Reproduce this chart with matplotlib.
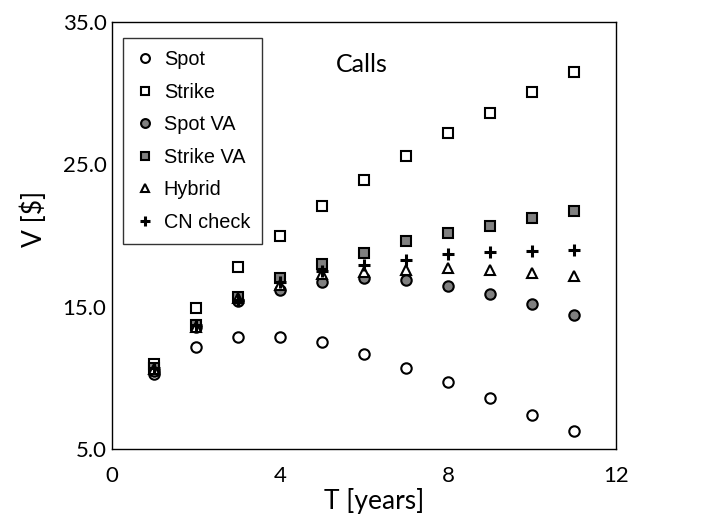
import matplotlib.pyplot as plt

# maturity in years
T = [1, 2, 3, 4, 5, 6, 7, 8, 9, 10, 11]

# option values
spot = [10.3, 12.2, 12.9, 12.9, 12.5, 11.7, 10.7, 9.7, 8.6, 7.4, 6.3]
strike = [11.0, 14.9, 17.8, 20.0, 22.1, 23.9, 25.6, 27.2, 28.6, 30.1, 31.5]
spot_va = [10.5, 13.6, 15.4, 16.2, 16.75, 17.0, 16.9, 16.45, 15.9, 15.2, 14.4]
strike_va = [10.7, 13.7, 15.7, 17.0, 18.0, 18.8, 19.6, 20.2, 20.7, 21.2, 21.7]
hybrid = [10.6, 13.6, 15.6, 16.5, 17.3, 17.45, 17.6, 17.7, 17.6, 17.4, 17.15]
cn_check = [10.7, 13.7, 15.5, 16.75, 17.5, 17.9, 18.3, 18.7, 18.85, 18.9, 19.0]

xticks = [0, 4, 8, 12]
yticks = [5, 15, 25, 35]

grey = '#808080'
tick_font = 'Lato'

fig = plt.figure(figsize=(7.24, 5.17), dpi=100)
ax = fig.add_axes([0.1547, 0.1315, 0.6961, 0.8259])

ms = 7.5
mew = 1.5
ax.plot(T, spot, 'o', ms=ms, mfc='white', mec='black', mew=mew, label='Spot')
ax.plot(T, strike, 's', ms=ms, mfc='white', mec='black', mew=mew, label='Strike')
ax.plot(T, spot_va, 'o', ms=ms, mfc=grey, mec='black', mew=mew, label='Spot VA')
ax.plot(T, strike_va, 's', ms=ms, mfc=grey, mec='black', mew=mew, label='Strike VA')
ax.plot(T, hybrid, '^', ms=6.5, mfc='white', mec='black', mew=mew, label='Hybrid')
ax.plot(T, cn_check, '+', ms=8, mec='black', mew=2.2, label='CN check')

ax.set_xlim(0, 12)
ax.set_ylim(5, 35)
ax.set_xticks(xticks)
ax.set_yticks(yticks)
ax.set_xticklabels([str(v) for v in xticks], fontsize=16, family=tick_font)
ax.set_yticklabels(['%.1f' % v for v in yticks], fontsize=16, family=tick_font)
ax.tick_params(length=0)
ax.tick_params(axis='x', pad=12)
ax.tick_params(axis='y', pad=4)

for s in ax.spines.values():
    s.set_linewidth(1.0)
    s.set_color('black')

ax.set_xlabel('T [years]', fontsize=19, family=tick_font)
ax.set_ylabel('V [$]', fontsize=19, family=tick_font)
ax.xaxis.set_label_coords(0.52, -0.092)
ax.yaxis.set_label_coords(-0.128, 0.54)

ax.text(5.96, 32.0, 'Calls', fontsize=18, family=tick_font,
        ha='center', va='center')

leg = ax.legend(loc='upper left', bbox_to_anchor=(0.022, 0.962),
                prop={'family': 'Liberation Sans', 'size': 14.3},
                markerscale=0.85, frameon=True, fancybox=False,
                edgecolor='black', labelspacing=0.68, handlelength=1.0,
                handletextpad=0.45, borderpad=0.6, borderaxespad=0)
leg.get_frame().set_linewidth(1.0)

fig.savefig('out.png', dpi=100)
